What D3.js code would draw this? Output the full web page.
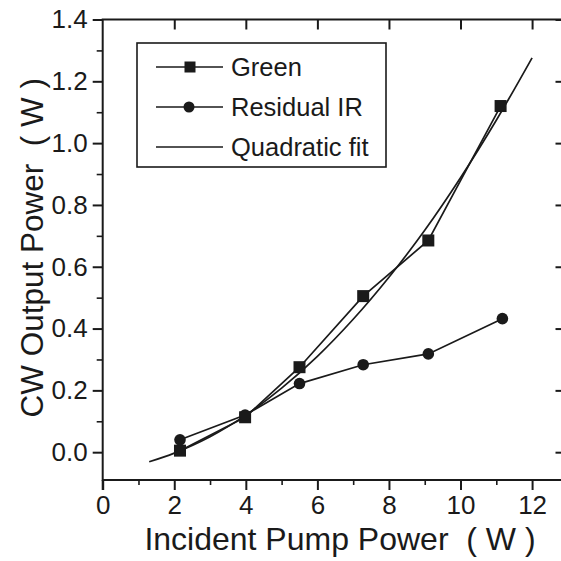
<!DOCTYPE html>
<html>
<head>
<meta charset="utf-8">
<script src="https://cdn.jsdelivr.net/npm/d3@7"></script>
<style>
  html, body { margin: 0; padding: 0; background: #fff; }
  svg text { font-family: "Liberation Sans", Arial, Helvetica, sans-serif; fill: #1a1a1a; }
</style>
</head>
<body>
<svg id="chart" width="561" height="561"></svg>
<script>
// ---- data ----
const pumpPower = [2.16, 3.98, 5.5, 7.28, 9.1, 11.12];
const greenPower = [0.005, 0.113, 0.275, 0.505, 0.685, 1.12];
const irPump = [2.16, 3.98, 5.5, 7.28, 9.1, 11.17];
const irPower = [0.04, 0.12, 0.222, 0.283, 0.318, 0.432];
const fitPump = [1.3, 2, 3, 4, 5, 6, 7, 8, 9, 10, 11, 12];
const fitPower = [-0.031, -0.003, 0.05, 0.12, 0.207, 0.31, 0.43, 0.566, 0.718, 0.888, 1.074, 1.276];
const xTicks = [0, 2, 4, 6, 8, 10, 12];
const xMinorTicks = [1, 3, 5, 7, 9, 11];
const yTicks = [0.0, 0.2, 0.4, 0.6, 0.8, 1.0, 1.2, 1.4];
const yMinorTicks = [0.1, 0.3, 0.5, 0.7, 0.9, 1.1, 1.3];
const legendLabels = ["Green", "Residual IR", "Quadratic fit"];
const xTitle = "Incident Pump Power\u00a0 ( W )";
const yTitle = "CW Output Power\u00a0 ( W )";

const svg = d3.select("#chart");
const pL = 102.7, pR = 562.5, pT = 19.5, pB = 480;
const x = d3.scaleLinear().domain([0, 12.85]).range([pL, pR]);
const y = d3.scaleLinear().domain([-0.09, 1.4]).range([pB, pT]);
const ink = "#1a1a1a";

// frame
svg.append("rect").attr("x", pL).attr("y", pT)
  .attr("width", pR - pL).attr("height", pB - pT)
  .attr("fill", "none").attr("stroke", ink).attr("stroke-width", 2);

// bottom axis
const gx = svg.append("g").attr("transform", `translate(0,${pB})`)
  .call(d3.axisBottom(x).tickValues(xTicks).tickFormat(d3.format("d")).tickSize(10).tickPadding(6));
gx.select(".domain").remove();
gx.selectAll("line").attr("stroke", ink).attr("stroke-width", 2);
gx.selectAll("text").attr("font-size", 26).attr("fill", ink);
svg.append("g").attr("transform", `translate(0,${pB})`)
  .call(d3.axisBottom(x).tickValues(xMinorTicks).tickFormat("").tickSize(5))
  .call(g => g.select(".domain").remove())
  .selectAll("line").attr("stroke", ink).attr("stroke-width", 1.6);

// top axis (inward)
svg.append("g").attr("transform", `translate(0,${pT})`)
  .call(d3.axisTop(x).tickValues(xTicks.slice(1)).tickFormat("").tickSize(-10))
  .call(g => g.select(".domain").remove())
  .selectAll("line").attr("stroke", ink).attr("stroke-width", 2);

// left axis
const gy = svg.append("g").attr("transform", `translate(${pL},0)`)
  .call(d3.axisLeft(y).tickValues(yTicks).tickFormat(d3.format(".1f")).tickSize(10).tickPadding(5));
gy.select(".domain").remove();
gy.selectAll("line").attr("stroke", ink).attr("stroke-width", 2);
gy.selectAll("text").attr("font-size", 26).attr("fill", ink);
svg.append("g").attr("transform", `translate(${pL},0)`)
  .call(d3.axisLeft(y).tickValues(yMinorTicks).tickFormat("").tickSize(6))
  .call(g => g.select(".domain").remove())
  .selectAll("line").attr("stroke", ink).attr("stroke-width", 1.6);
// x=0 tick extends the left axis downward
svg.append("line").attr("x1", pL).attr("x2", pL).attr("y1", pB).attr("y2", pB + 10)
  .attr("stroke", ink).attr("stroke-width", 2);

// right axis (inward)
svg.append("g").attr("transform", `translate(${pR},0)`)
  .call(d3.axisRight(y).tickValues(yTicks).tickFormat("").tickSize(-7))
  .call(g => g.select(".domain").remove())
  .selectAll("line").attr("stroke", ink).attr("stroke-width", 2);

// titles
svg.append("text").attr("x", 340).attr("y", 550).attr("text-anchor", "middle")
  .attr("font-size", 32).text(xTitle);
svg.append("text").attr("transform", `translate(43,${(pT + pB) / 2 - 2}) rotate(-90)`)
  .attr("text-anchor", "middle").attr("font-size", 31.5).text(yTitle);

// series
const greenData = pumpPower.map((p, i) => [p, greenPower[i]]);
const irData = irPump.map((p, i) => [p, irPower[i]]);
const fitData = fitPump.map((p, i) => [p, fitPower[i]]);
const line = d3.line().x(d => x(d[0])).y(d => y(d[1]));

svg.append("path").datum(fitData)
  .attr("d", line.curve(d3.curveCatmullRom))
  .attr("fill", "none").attr("stroke", ink).attr("stroke-width", 1.7);
line.curve(d3.curveLinear);
svg.append("path").datum(greenData).attr("d", line)
  .attr("fill", "none").attr("stroke", ink).attr("stroke-width", 1.7);
svg.append("path").datum(irData).attr("d", line)
  .attr("fill", "none").attr("stroke", ink).attr("stroke-width", 1.7);

const sq = 12;
svg.append("g").selectAll("rect").data(greenData).join("rect")
  .attr("x", d => x(d[0]) - sq / 2).attr("y", d => y(d[1]) - sq / 2)
  .attr("width", sq).attr("height", sq).attr("fill", ink);
svg.append("g").selectAll("circle").data(irData).join("circle")
  .attr("cx", d => x(d[0])).attr("cy", d => y(d[1])).attr("r", 5.8).attr("fill", ink);

// legend
const lg = svg.append("g");
lg.append("rect").attr("x", 137).attr("y", 43).attr("width", 249).attr("height", 124)
  .attr("fill", "#fff").attr("stroke", ink).attr("stroke-width", 1.6);
const rowY = [67, 107, 147];
legendLabels.forEach((lab, i) => {
  lg.append("line").attr("x1", 156).attr("x2", 223).attr("y1", rowY[i]).attr("y2", rowY[i])
    .attr("stroke", ink).attr("stroke-width", 1.4);
  if (i === 0) lg.append("rect").attr("x", 190 - 5.5).attr("y", rowY[i] - 5.5)
    .attr("width", 11).attr("height", 11).attr("fill", ink);
  if (i === 1) lg.append("circle").attr("cx", 189).attr("cy", rowY[i]).attr("r", 5.5).attr("fill", ink);
  lg.append("text").attr("x", 231).attr("y", rowY[i]).attr("dy", "0.36em")
    .attr("font-size", 25.5).text(lab);
});
</script>
</body>
</html>
